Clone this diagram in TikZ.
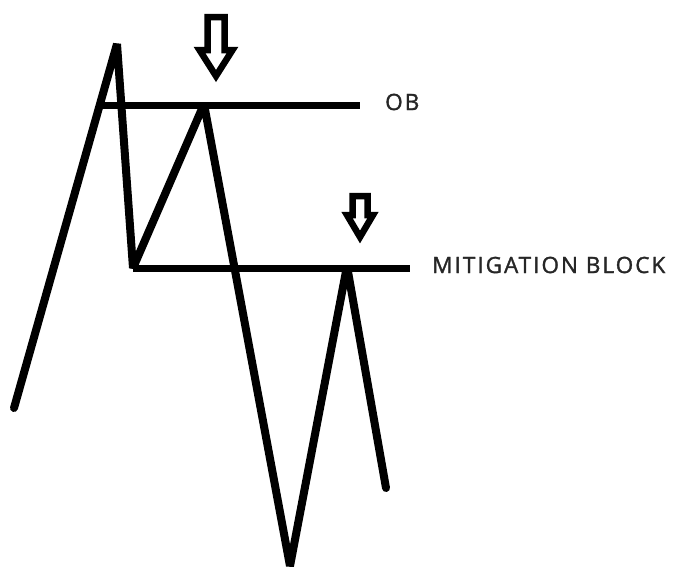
\documentclass[tikz,border=0pt]{standalone}
\usepackage{fontspec}
\setmainfont{Open Sans}
\newfontfamily\levelfont[LetterSpace=9, FakeBold=1.5]{Open Sans}
\usetikzlibrary{positioning,calc}
\tikzset{%
  price line/.style={
    line width=8pt,
    line join=bevel,
    line cap=round
  },
  level line/.style={
    line width=7pt,
    line cap=butt
  },
  level label/.style={
    anchor=west,
    inner sep=0pt,
    font=\levelfont\fontsize{22.5}{26}\selectfont,
    text=black!85
  },
  hollow arrow/.style={
    line width=6.5pt,
    line join=miter,
    fill=white
  },
}

\begin{document}
\begin{tikzpicture}[x=1pt, y=-1pt]
\useasboundingbox (0,0) rectangle (674,571);
% swing points
\coordinate (p0) at (14,408);
\coordinate (p1) at (117,44);
\coordinate (p2) at (133,268);
\coordinate (p3) at (204,104);
\coordinate (p4) at (290,566);
\coordinate (p5) at (347,266);
\coordinate (p6) at (386,488);
\coordinate (obstart) at (103,105);

% labels
\node[level label] (ob) at (385,102) {OB};
\node[level label] (mb) at (432,265) {MITIGATION BLOCK};

% levels
\draw[level line] (obstart) -- ($(ob.west |- obstart)+(-25,0)$);
\draw[level line] (p2) -- ($(mb.west |- p2)+(-22,0)$);

% price
\draw[price line] (p0) -- (p1) -- (p2) -- (p3) -- (p4) -- (p5) -- (p6);

% arrows: tip x / top y / head y / tip y / shaft / head
\foreach \n/\x/\t/\h/\b/\s/\w in {a/216/17/50/76/8.5/16.5, b/360/196/215/237/7.5/13}
  {\coordinate (\n) at (\x,\b);
   \draw[hollow arrow] (\x-\s,\t) -- (\x+\s,\t) -- (\x+\s,\h) -- (\x+\w,\h)
     -- (\n) -- (\x-\w,\h) -- (\x-\s,\h) -- cycle;}
\end{tikzpicture}
\end{document}
